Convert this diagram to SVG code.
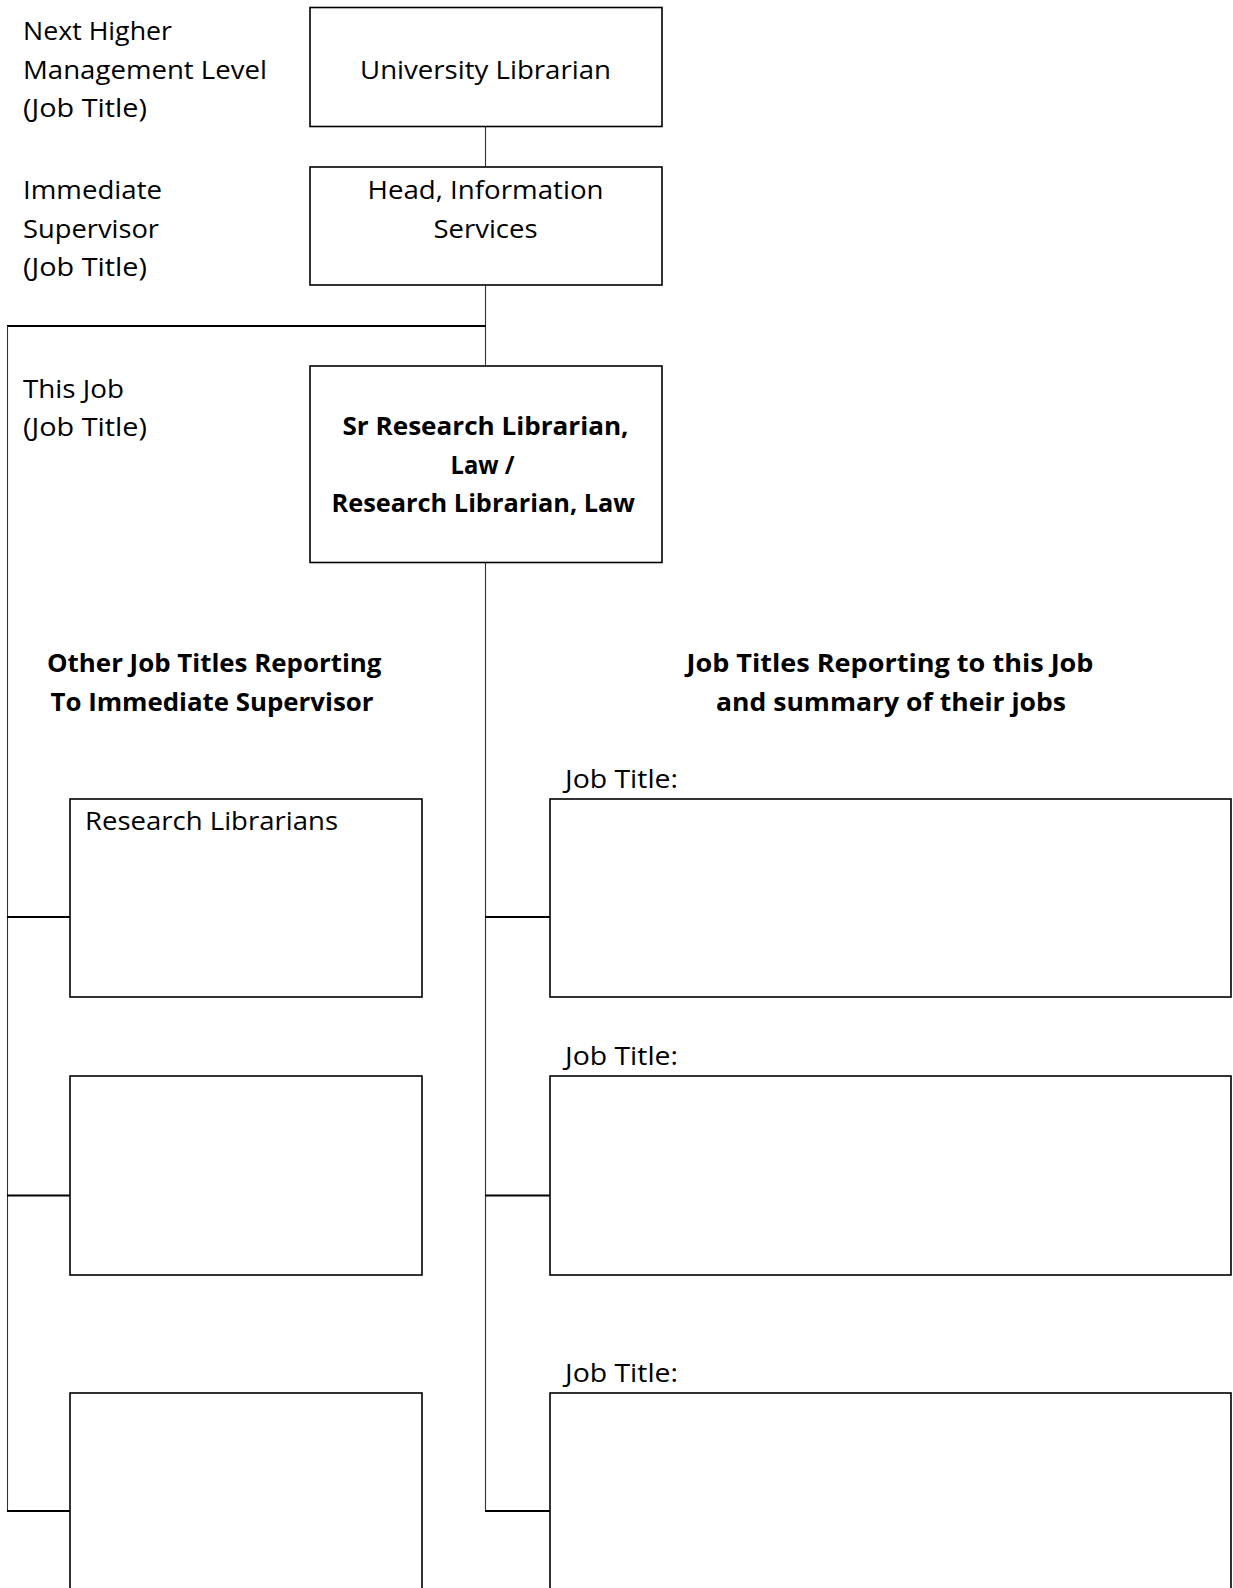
<svg xmlns="http://www.w3.org/2000/svg" width="1233" height="1588" viewBox="0 0 1233 1588">
<style>
  text { font-family: "Open Sans", "Noto Sans", "Liberation Sans", sans-serif; font-size: 25.5px; fill: #000; }
  .b { font-weight: bold; }
  .box { fill: #fff; stroke: #000; stroke-width: 1.6; }
  .v { stroke: #333; stroke-width: 1.1; fill: none; }
  .h { stroke: #000; stroke-width: 2; fill: none; }
</style>
<rect x="0" y="0" width="1233" height="1588" fill="#fff"/>

<g id="connectors">
  <line class="v" x1="485.5" y1="127" x2="485.5" y2="167"/>
  <line class="v" x1="485.5" y1="285" x2="485.5" y2="366"/>
  <line class="h" x1="7" y1="326" x2="486" y2="326"/>
  <line class="v" x1="7.5" y1="326" x2="7.5" y2="1511"/>
  <line class="v" x1="485.5" y1="562.5" x2="485.5" y2="1511"/>
  <line class="h" x1="7" y1="917" x2="70" y2="917"/>
  <line class="h" x1="7" y1="1195.5" x2="70" y2="1195.5"/>
  <line class="h" x1="7" y1="1511" x2="70" y2="1511"/>
  <line class="h" x1="485" y1="917" x2="550" y2="917"/>
  <line class="h" x1="485" y1="1195.5" x2="550" y2="1195.5"/>
  <line class="h" x1="485" y1="1511" x2="550" y2="1511"/>
</g>

<g id="label-next-higher">
  <text x="23" y="40" textLength="149" lengthAdjust="spacingAndGlyphs">Next Higher</text>
  <text x="23" y="78.5" textLength="244" lengthAdjust="spacingAndGlyphs">Management Level</text>
  <text x="23" y="117" textLength="124" lengthAdjust="spacingAndGlyphs">(Job Title)</text>
</g>
<g id="label-immediate">
  <text x="23" y="199" textLength="139" lengthAdjust="spacingAndGlyphs">Immediate</text>
  <text x="23" y="237.5" textLength="136" lengthAdjust="spacingAndGlyphs">Supervisor</text>
  <text x="23" y="276" textLength="124" lengthAdjust="spacingAndGlyphs">(Job Title)</text>
</g>
<g id="label-this-job">
  <text x="23" y="397.5" textLength="101" lengthAdjust="spacingAndGlyphs">This Job</text>
  <text x="23" y="436" textLength="124" lengthAdjust="spacingAndGlyphs">(Job Title)</text>
</g>

<g id="node-university-librarian">
  <rect class="box" x="310" y="7.5" width="352" height="119"/>
  <text x="360" y="78.5" textLength="251" lengthAdjust="spacingAndGlyphs">University Librarian</text>
</g>
<g id="node-head-information-services">
  <rect class="box" x="310" y="167" width="352" height="118"/>
  <text x="367.5" y="199" textLength="236" lengthAdjust="spacingAndGlyphs">Head, Information</text>
  <text x="433.5" y="237.5" textLength="104" lengthAdjust="spacingAndGlyphs">Services</text>
</g>
<g id="node-this-job">
  <rect class="box" x="310" y="366" width="352" height="196.5"/>
  <text class="b" x="342.5" y="435" textLength="286" lengthAdjust="spacingAndGlyphs">Sr Research Librarian,</text>
  <text class="b" x="450.5" y="473.5" textLength="64" lengthAdjust="spacingAndGlyphs">Law /</text>
  <text class="b" x="331.5" y="512" textLength="303.5" lengthAdjust="spacingAndGlyphs">Research Librarian, Law</text>
</g>

<g id="header-other">
  <text class="b" x="47" y="672" textLength="334.5" lengthAdjust="spacingAndGlyphs">Other Job Titles Reporting</text>
  <text class="b" x="50.5" y="710.5" textLength="323" lengthAdjust="spacingAndGlyphs">To Immediate Supervisor</text>
</g>
<g id="header-reporting">
  <text class="b" x="686.5" y="672" textLength="407" lengthAdjust="spacingAndGlyphs">Job Titles Reporting to this Job</text>
  <text class="b" x="716" y="710.5" textLength="350" lengthAdjust="spacingAndGlyphs">and summary of their jobs</text>
</g>

<g id="node-research-librarians">
  <rect class="box" x="70" y="799" width="352" height="198"/>
  <text x="85" y="830" textLength="253" lengthAdjust="spacingAndGlyphs">Research Librarians</text>
</g>
<g id="node-other-2">
  <rect class="box" x="70" y="1076" width="352" height="199"/>
</g>
<g id="node-other-3">
  <rect class="box" x="70" y="1393" width="352" height="220"/>
</g>

<g id="node-report-1">
  <text x="565" y="788" textLength="113" lengthAdjust="spacingAndGlyphs">Job Title:</text>
  <rect class="box" x="550" y="799" width="681" height="198"/>
</g>
<g id="node-report-2">
  <text x="565" y="1065" textLength="113" lengthAdjust="spacingAndGlyphs">Job Title:</text>
  <rect class="box" x="550" y="1076" width="681" height="199"/>
</g>
<g id="node-report-3">
  <text x="565" y="1382" textLength="113" lengthAdjust="spacingAndGlyphs">Job Title:</text>
  <rect class="box" x="550" y="1393" width="681" height="220"/>
</g>
</svg>
